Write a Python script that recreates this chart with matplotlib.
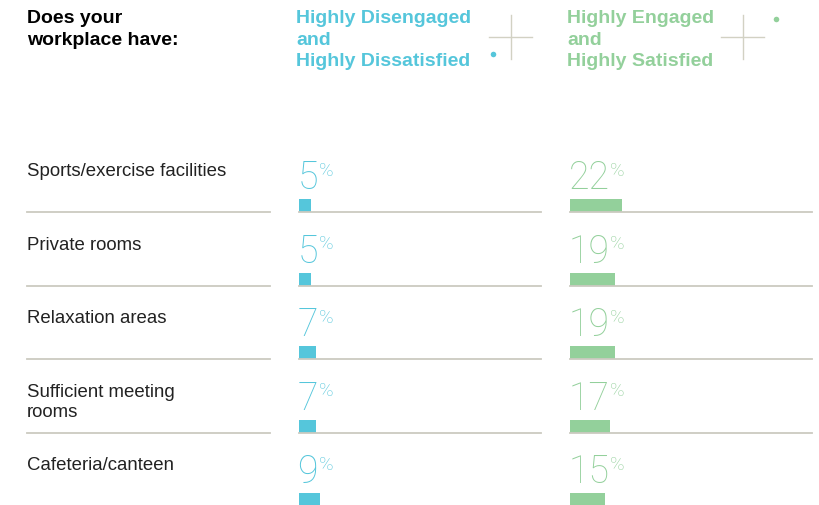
import matplotlib
matplotlib.use("Agg")
import matplotlib.pyplot as plt

# data
categories = ["Sports/exercise facilities", "Private rooms", "Relaxation areas",
              "Sufficient meeting\nrooms", "Cafeteria/canteen"]
disengaged = [5, 5, 7, 7, 9]
engaged = [22, 19, 19, 17, 15]
header = "Does your\nworkplace have:"
series_names = ["Highly Disengaged\nand\nHighly Dissatisfied",
                "Highly Engaged\nand\nHighly Satisfied"]

BLUE = "#55C6DB"
GREEN = "#93D09B"
RULE = "#CBCAC0"
TEXT = "#222222"

W, H = 820, 506
fig = plt.figure(figsize=(W / 100, H / 100), dpi=100)
ax = fig.add_axes([0, 0, 1, 1])
ax.set_xlim(0, W)
ax.set_ylim(H, 0)
ax.axis("off")

SANS = ["Liberation Sans", "DejaVu Sans"]
THIN = ["Roboto", "DejaVu Sans"]

# headers
ax.text(27, 10, header, fontsize=14, fontweight="bold", color="black",
        family=SANS, va="top", linespacing=1.36)
cols = [(299, BLUE, disengaged), (570, GREEN, engaged)]
for (x0, col, _), name in zip(cols, series_names):
    ax.text(x0 - 3, 10, name, fontsize=14, fontweight="bold", color=col,
            family=SANS, va="top", linespacing=1.36)

# crosshair decorations
for cx, dot, dcol in [(511, (493, 55), BLUE), (743, (776, 20), GREEN)]:
    ax.plot([cx, cx], [16, 60], color="#D2D1C3", lw=1)
    ax.plot([cx - 22, cx + 21], [38, 38], color="#D2D1C3", lw=1)
    ax.plot(*dot, "o", color=dcol, ms=4, mec="none")

px_per_pct = 2.36
row0, step = 213, 73.6
for i, cat in enumerate(categories):
    base = row0 + step * i
    ax.text(27, base - 50, cat, fontsize=13.4, color=TEXT, family=SANS,
            va="top", linespacing=1.24)
    if i < len(categories) - 1:
        ax.plot([27, 270], [base, base], color=RULE, lw=1.3)
    for x0, col, vals in cols:
        v = vals[i]
        if i < len(categories) - 1:
            ax.plot([x0, x0 + 242], [base, base], color=RULE, lw=1.3)
        ax.barh(base - 6.5, v * px_per_pct, height=13, left=x0, color=col)
        t = ax.text(x0 - 1.5, base - 24, str(v), fontsize=27, color=col,
                    family=THIN, fontweight="light", va="baseline")
        ax.annotate("%", xy=(1, 1), xycoords=t, xytext=(0.3, -1.5),
                    textcoords="offset points", fontsize=14, color=col,
                    family=THIN, fontweight="light", va="top")

fig.savefig("out.png", dpi=100)
